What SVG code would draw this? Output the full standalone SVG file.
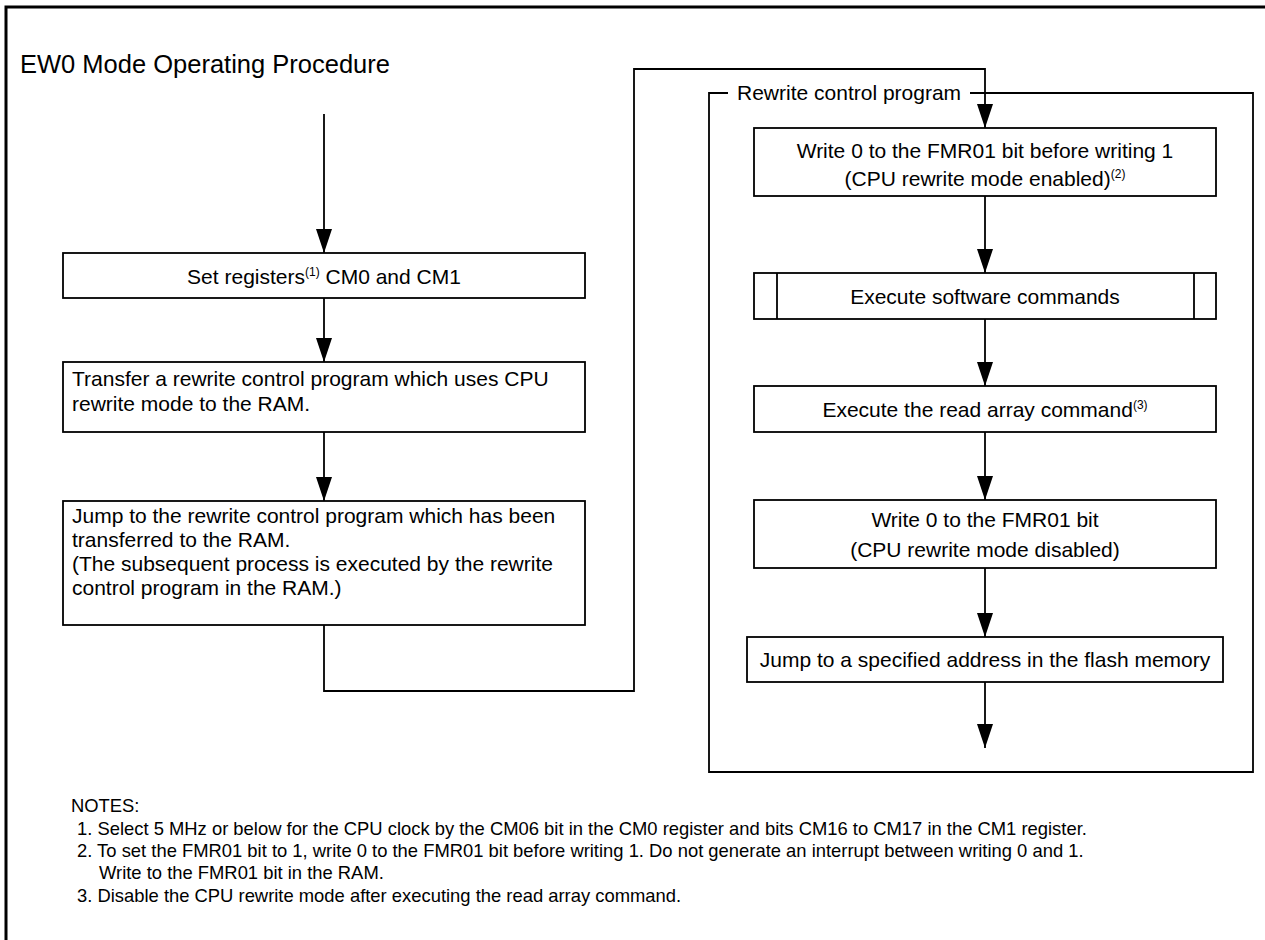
<svg xmlns="http://www.w3.org/2000/svg" width="1265" height="940" viewBox="0 0 1265 940">
  <style>
    text { font-family: "Liberation Sans", Arial, sans-serif; fill: #000; }
    .t { font-size: 21px; }
    .c { text-anchor: middle; }
    .title { font-size: 25.5px; }
    .note { font-size: 18.4px; }
    .sup { font-size: 12px; }
    .box { fill: #fff; stroke: #000; stroke-width: 1.8; }
    .ln { fill: none; stroke: #000; stroke-width: 1.8; }
    .arr { fill: none; stroke: #000; stroke-width: 1.8; marker-end: url(#ah); }
    .frame { fill: none; stroke: #000; stroke-width: 3; }
  </style>
  <defs>
    <marker id="ah" markerUnits="userSpaceOnUse" viewBox="0 0 24 16" refX="24" refY="8" markerWidth="24" markerHeight="16" orient="auto">
      <path d="M0,0 L24,8 L0,16 z" fill="#000"/>
    </marker>
  </defs>
  <rect width="1265" height="940" fill="#fff"/>
  <path class="frame" d="M6,940 V7 H1265"/>

  <text class="title" x="20" y="73">EW0 Mode Operating Procedure</text>

  <g id="connectors">
    <line class="arr" x1="324" y1="114" x2="324" y2="253"/>
    <line class="arr" x1="324" y1="298" x2="324" y2="362"/>
    <line class="arr" x1="324" y1="432" x2="324" y2="501"/>
    <polyline class="arr" points="324,625 324,691 634,691 634,69 985,69 985,128"/>
    <line class="arr" x1="985" y1="196" x2="985" y2="273"/>
    <line class="arr" x1="985" y1="319" x2="985" y2="386"/>
    <line class="arr" x1="985" y1="432" x2="985" y2="500"/>
    <line class="arr" x1="985" y1="568" x2="985" y2="637"/>
    <line class="arr" x1="985" y1="682" x2="985" y2="748"/>
  </g>

  <g id="container">
    <path class="ln" d="M728,93 H709 V772 H1253 V93 H970"/>
    <text class="t" x="737" y="100">Rewrite control program</text>
  </g>

  <g id="set-registers">
    <rect class="box" x="63" y="253" width="522" height="45"/>
    <text class="t c" x="324" y="284">Set registers<tspan class="sup" dy="-8">(1)</tspan><tspan dy="8"> CM0 and CM1</tspan></text>
  </g>

  <g id="transfer">
    <rect class="box" x="63" y="362" width="522" height="70"/>
    <text class="t" x="72" y="386">Transfer a rewrite control program which uses CPU</text>
    <text class="t" x="72" y="411">rewrite mode to the RAM.</text>
  </g>

  <g id="jump-ram">
    <rect class="box" x="63" y="501" width="522" height="124"/>
    <text class="t" x="72" y="523">Jump to the rewrite control program which has been</text>
    <text class="t" x="72" y="547">transferred to the RAM.</text>
    <text class="t" x="72" y="571">(The subsequent process is executed by the rewrite</text>
    <text class="t" x="72" y="595">control program in the RAM.)</text>
  </g>

  <g id="enable">
    <rect class="box" x="754" y="128" width="462" height="68"/>
    <text class="t c" x="985" y="158">Write 0 to the FMR01 bit before writing 1</text>
    <text class="t c" x="985" y="186">(CPU rewrite mode enabled)<tspan class="sup" dy="-8">(2)</tspan></text>
  </g>

  <g id="software-commands">
    <rect class="box" x="754" y="273" width="462" height="46"/>
    <line class="ln" x1="777" y1="273" x2="777" y2="319"/>
    <line class="ln" x1="1194" y1="273" x2="1194" y2="319"/>
    <text class="t c" x="985" y="304">Execute software commands</text>
  </g>

  <g id="read-array">
    <rect class="box" x="754" y="386" width="462" height="46"/>
    <text class="t c" x="985" y="417">Execute the read array command<tspan class="sup" dy="-8">(3)</tspan></text>
  </g>

  <g id="disable">
    <rect class="box" x="754" y="500" width="462" height="68"/>
    <text class="t c" x="985" y="527">Write 0 to the FMR01 bit</text>
    <text class="t c" x="985" y="557">(CPU rewrite mode disabled)</text>
  </g>

  <g id="jump-flash">
    <rect class="box" x="747" y="637" width="476" height="45"/>
    <text class="t c" x="985" y="667">Jump to a specified address in the flash memory</text>
  </g>

  <g id="notes">
    <text class="note" x="71" y="812">NOTES:</text>
    <text class="note" x="77" y="835">1. Select 5 MHz or below for the CPU clock by the CM06 bit in the CM0 register and bits CM16 to CM17 in the CM1 register.</text>
    <text class="note" x="77" y="857">2. To set the FMR01 bit to 1, write 0 to the FMR01 bit before writing 1. Do not generate an interrupt between writing 0 and 1.</text>
    <text class="note" x="99" y="879">Write to the FMR01 bit in the RAM.</text>
    <text class="note" x="77" y="902">3. Disable the CPU rewrite mode after executing the read array command.</text>
  </g>
</svg>
